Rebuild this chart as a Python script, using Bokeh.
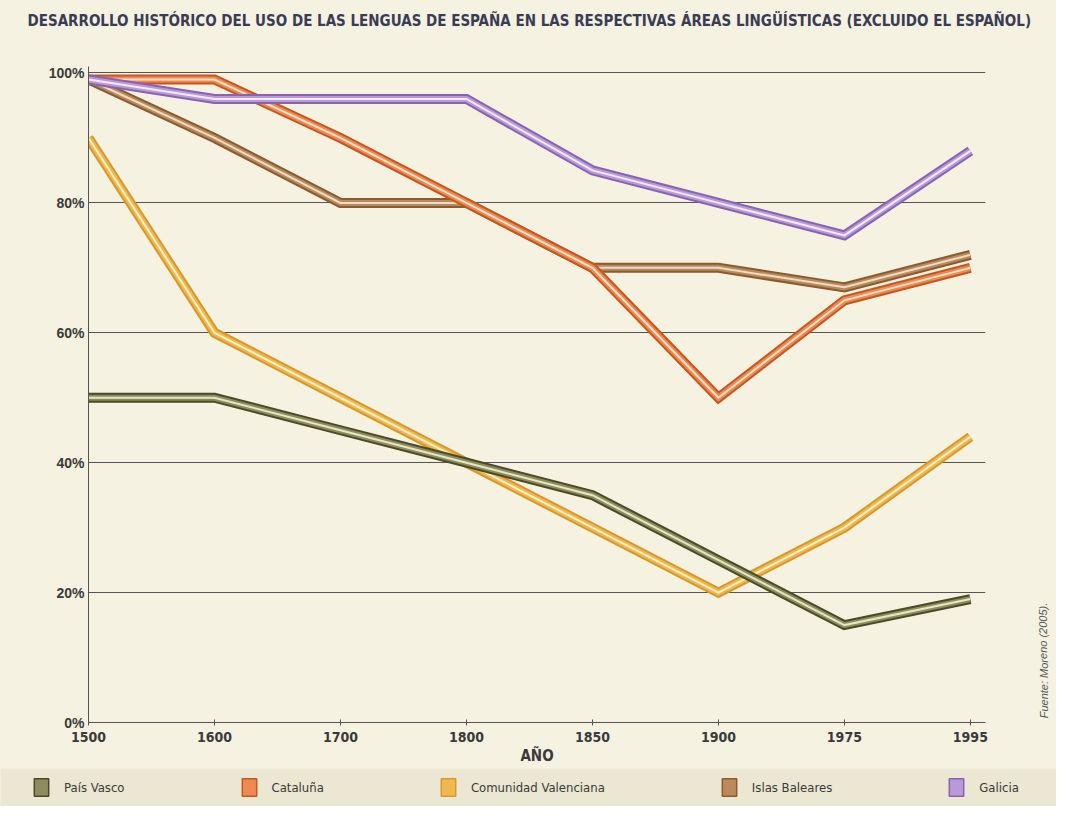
from bokeh.plotting import figure
from bokeh.layouts import column, row
from bokeh.models import (ColumnDataSource, FixedTicker, Label, Legend, LegendItem)
from bokeh.embed import file_html
from bokeh.resources import INLINE

years = ["1500", "1600", "1700", "1800", "1850", "1900", "1975", "1995"]
pais_vasco = [50, 50, 45, 40, 35, 25, 15, 19]
cataluna = [99, 99, 90, 80, 70, 50, 65, 70]
valenciana = [90, 60, 50, 40, 30, 20, 30, 44]
baleares = [99, 90, 80, 80, 70, 70, 67, 72]
galicia = [99, 96, 96, 96, 85, 80, 75, 88]
y_ticks = [0, 20, 40, 60, 80, 100]

names = ["País Vasco", "Cataluña", "Comunidad Valenciana", "Islas Baleares", "Galicia"]
series = [pais_vasco, cataluna, valenciana, baleares, galicia]
colors = {
    "País Vasco": ("#4a4a26", "#8c8c5c", "#e6e6c8"),
    "Cataluña": ("#c8561f", "#ec8a52", "#fce2cc"),
    "Comunidad Valenciana": ("#d8982a", "#f0b850", "#fcefc6"),
    "Islas Baleares": ("#8a5a30", "#b98a5c", "#eedcc4"),
    "Galicia": ("#8a62b2", "#b99ad8", "#f2eafa"),
}
draw_order = ["Comunidad Valenciana", "País Vasco", "Islas Baleares", "Cataluña", "Galicia"]

BG = "#f5f2e1"
BG_LEG = "#ebe7d2"
TXT = "#3a3a3a"
COND = "'Liberation Sans Narrow', 'DejaVu Sans Condensed', 'Liberation Sans', sans-serif"


def blank(w, h, bg):
    f = figure(width=w, height=h, output_backend="svg", toolbar_location=None,
               x_range=(0, w), y_range=(0, h), x_axis_type=None, y_axis_type=None,
               min_border=0, min_border_left=0, min_border_right=0,
               min_border_top=0, min_border_bottom=0)
    f.background_fill_color = bg
    f.border_fill_color = bg
    f.outline_line_color = None
    f.xgrid.visible = False
    f.ygrid.visible = False
    return f


# ---- title strip ----
t = blank(1056, 40, BG)
t.add_layout(Label(x=27, y=20, x_units="screen", y_units="screen",
                   text="DESARROLLO HISTÓRICO DEL USO DE LAS LENGUAS DE ESPAÑA EN LAS RESPECTIVAS ÁREAS LINGÜÍSTICAS (EXCLUIDO EL ESPAÑOL)",
                   text_font=COND, text_font_style="bold", text_font_size="15px",
                   text_color="#3a3c55", text_baseline="middle", text_align="left"))

# ---- main chart ----
p = figure(width=1022, height=728, output_backend="svg", toolbar_location=None,
           x_range=(0, 7.12), y_range=(0, 101),
           min_border_left=88, min_border_right=37, min_border_top=26, min_border_bottom=46)
p.background_fill_color = BG
p.border_fill_color = BG
p.outline_line_color = None

xs = list(range(len(years)))
for name in draw_order:
    vals = series[names.index(name)]
    s = ColumnDataSource(dict(x=xs, y=vals))
    edge, main, hi = colors[name]
    p.line("x", "y", source=s, line_width=10, line_color=edge, line_join="miter")
    p.line("x", "y", source=s, line_width=6, line_color=main, line_join="miter")
    p.line("x", "y", source=s, line_width=2, line_color=hi, line_join="miter")

p.xaxis.ticker = FixedTicker(ticks=xs)
p.xaxis.major_label_overrides = {i: y for i, y in enumerate(years)}
p.xaxis.major_label_text_font = COND
p.xaxis.major_label_text_font_style = "bold"
p.xaxis.major_label_text_font_size = "14px"
p.xaxis.major_label_text_color = TXT
p.xaxis.major_label_standoff = 6
p.xaxis.major_tick_in = 3
p.xaxis.major_tick_out = 3
p.xaxis.minor_tick_line_color = None
p.xaxis.axis_line_color = "#555555"
p.xaxis.major_tick_line_color = "#555555"
p.xaxis.axis_label = "AÑO"
p.xaxis.axis_label_text_font = COND
p.xaxis.axis_label_text_font_style = "bold"
p.xaxis.axis_label_text_font_size = "15px"
p.xaxis.axis_label_text_color = TXT
p.xaxis.axis_label_standoff = 2

p.yaxis.ticker = FixedTicker(ticks=y_ticks)
p.yaxis.major_label_overrides = {v: f"{v}%" for v in y_ticks}
p.yaxis.major_label_text_font = "Liberation Sans"
p.yaxis.major_label_text_font_style = "bold"
p.yaxis.major_label_text_font_size = "14px"
p.yaxis.major_label_text_color = TXT
p.yaxis.major_tick_in = 0
p.yaxis.major_tick_out = 0
p.yaxis.minor_tick_line_color = None
p.yaxis.major_label_standoff = 4
p.yaxis.axis_line_color = "#555555"

p.xgrid.grid_line_color = None
p.ygrid.grid_line_color = "#555555"
p.ygrid.grid_line_width = 1

# ---- source note strip ----
f = blank(34, 728, BG)
f.add_layout(Label(x=21, y=62, x_units="screen", y_units="screen",
                   text="Fuente: Moreno (2005).", angle=1.5708,
                   text_font="Liberation Sans", text_font_style="italic", text_font_size="11px",
                   text_color="#555555", text_baseline="middle", text_align="center"))

# ---- legend strip ----
lg = blank(1056, 38, BG_LEG)
items = []
for name in names:
    edge, main, hi = colors[name]
    # dummy renderer kept outside the visible range; only its legend swatch is shown
    r = lg.quad(left=[-50], right=[-40], top=[-50], bottom=[-40], fill_color=main,
                line_color=edge, line_width=1.5)
    items.append(LegendItem(label=name, renderers=[r]))
legend = Legend(items=items, orientation="horizontal", location=(32, 8),
                spacing=115, padding=0, margin=0, label_standoff=14,
                glyph_width=18, glyph_height=22, background_fill_alpha=0,
                border_line_color=None, label_text_font=COND,
                label_text_font_size="13px", label_text_color=TXT)
lg.add_layout(legend, "center")

layout = column(t, row(p, f, spacing=0, styles={"background-color": BG}),
                lg, spacing=0, styles={"background-color": BG})
open("out.html", "w").write(file_html(layout, INLINE))
